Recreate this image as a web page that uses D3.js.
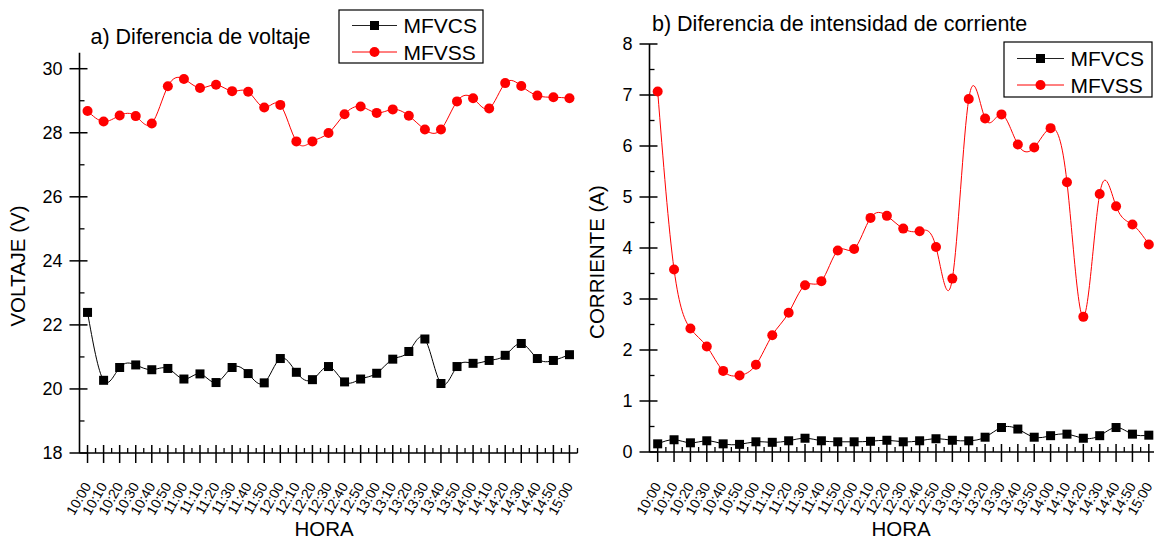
<!DOCTYPE html>
<html>
<head>
<meta charset="utf-8">
<script src="https://cdn.jsdelivr.net/npm/d3@7/dist/d3.min.js"></script>
<style>
  html, body { margin: 0; padding: 0; background: #fff; }
  svg { display: block; font-family: "Liberation Sans", Arial, sans-serif; }
</style>
</head>
<body>
<svg id="chart" width="1154" height="539"></svg>
<script>
// Measurement times, every 10 minutes
const horas = ["10:00","10:10","10:20","10:30","10:40","10:50","11:00","11:10","11:20","11:30",
  "11:40","11:50","12:00","12:10","12:20","12:30","12:40","12:50","13:00","13:10",
  "13:20","13:30","13:40","13:50","14:00","14:10","14:20","14:30","14:40","14:50","15:00"];

// a) Voltage (V)
const voltajeMFVCS = [22.39,20.27,20.67,20.75,20.60,20.64,20.31,20.47,20.20,20.67,
  20.48,20.19,20.95,20.52,20.29,20.70,20.22,20.31,20.49,20.93,
  21.17,21.56,20.17,20.70,20.80,20.89,21.05,21.42,20.95,20.89,21.07];
const voltajeMFVSS = [28.68,28.35,28.54,28.52,28.29,29.45,29.68,29.40,29.50,29.30,
  29.28,28.79,28.87,27.73,27.73,27.99,28.58,28.82,28.62,28.73,
  28.53,28.10,28.10,28.98,29.08,28.76,29.55,29.46,29.16,29.11,29.08];

// b) Current (A)
const corrienteMFVCS = [0.16,0.24,0.18,0.22,0.16,0.15,0.20,0.19,0.22,0.27,
  0.22,0.20,0.20,0.21,0.23,0.20,0.22,0.26,0.23,0.22,
  0.29,0.48,0.45,0.29,0.32,0.35,0.27,0.32,0.48,0.35,0.33];
const corrienteMFVSS = [7.07,3.58,2.42,2.07,1.59,1.50,1.71,2.29,2.73,3.27,
  3.35,3.95,3.98,4.59,4.63,4.38,4.33,4.02,3.40,6.92,
  6.54,6.62,6.03,5.97,6.35,5.29,2.65,5.06,4.82,4.46,4.07];

const voltajeTicks = [18,20,22,24,26,28,30];
const corrienteTicks = [0,1,2,3,4,5,6,7,8];
const seriesNames = ["MFVCS","MFVSS"];

const svg = d3.select("#chart");
const idx = d3.range(horas.length);

function panel(cfg) {
  const g = svg.append("g");
  const x = d3.scaleLinear().domain([-0.5, horas.length - 0.5]).range(cfg.xRange);
  const y = d3.scaleLinear().domain(cfg.yDomain).range(cfg.yRange);
  const x0 = cfg.xRange[0], y0 = cfg.yRange[0];

  // axis lines
  g.append("line").attr("x1", x0).attr("x2", x0).attr("y1", cfg.yRange[0]).attr("y2", cfg.yRange[1])
    .attr("stroke", "#000").attr("stroke-width", 1.6);
  g.append("line").attr("x1", x0).attr("x2", cfg.xRange[1]).attr("y1", y0).attr("y2", y0)
    .attr("stroke", "#000").attr("stroke-width", 1.6);

  // y major ticks (in & out) and labels
  g.selectAll(".ymaj").data(cfg.yTicks).join("line")
    .attr("x1", x0 - 10).attr("x2", x0 + 8)
    .attr("y1", d => y(d)).attr("y2", d => y(d))
    .attr("stroke", "#000").attr("stroke-width", 1.5);
  g.selectAll(".ylab").data(cfg.yTicks).join("text")
    .attr("x", x0 - 17).attr("y", d => y(d)).attr("dy", "0.36em")
    .attr("text-anchor", "end").attr("font-size", 18).attr("fill", "#000")
    .text(d => d);
  // y minor ticks (in)
  g.selectAll(".ymin").data(cfg.yMinor).join("line")
    .attr("x1", x0).attr("x2", x0 + 5)
    .attr("y1", d => y(d)).attr("y2", d => y(d))
    .attr("stroke", "#000").attr("stroke-width", 1.3);

  // x major ticks (in & out)
  g.selectAll(".xmaj").data(idx).join("line")
    .attr("x1", d => x(d)).attr("x2", d => x(d))
    .attr("y1", y0 - 8).attr("y2", y0 + 10)
    .attr("stroke", "#000").attr("stroke-width", 1.5);
  // x minor ticks (in)
  g.selectAll(".xmin").data(d3.range(horas.length).map(i => i + 0.5)).join("line")
    .attr("x1", d => x(d)).attr("x2", d => x(d))
    .attr("y1", y0 - 5).attr("y2", y0)
    .attr("stroke", "#000").attr("stroke-width", 1.3);
  // rotated hour labels
  g.selectAll(".xlab").data(idx).join("text")
    .attr("transform", d => `translate(${x(d) + 4},${cfg.labelY}) rotate(-60)`)
    .attr("text-anchor", "end").attr("font-size", 14).attr("fill", "#000")
    .text(d => horas[d]);

  // axis titles
  g.append("text").attr("x", cfg.horaX).attr("y", 536).attr("text-anchor", "middle")
    .attr("font-size", 20.5).text("HORA");
  g.append("text")
    .attr("transform", `translate(${cfg.yTitleX},${cfg.yTitleY}) rotate(-90)`)
    .attr("text-anchor", "middle").attr("font-size", 20.5).text(cfg.yTitle);

  // panel title
  g.append("text").attr("x", cfg.titleX).attr("y", cfg.titleY)
    .attr("font-size", 21.5).text(cfg.title);

  // series
  const line = d3.line().x((d, i) => x(i)).y(d => y(d)).curve(d3.curveNatural);
  g.append("path").datum(cfg.black).attr("d", line)
    .attr("fill", "none").attr("stroke", "#000").attr("stroke-width", 1);
  g.append("path").datum(cfg.red).attr("d", line)
    .attr("fill", "none").attr("stroke", "#ff0000").attr("stroke-width", 1);
  g.selectAll(".sq").data(cfg.black).join("rect")
    .attr("x", (d, i) => x(i) - 4.5).attr("y", d => y(d) - 4.5)
    .attr("width", 9).attr("height", 9).attr("fill", "#000");
  g.selectAll(".ci").data(cfg.red).join("circle")
    .attr("cx", (d, i) => x(i)).attr("cy", d => y(d)).attr("r", 5)
    .attr("fill", "#ff0000");

  // legend
  const L = cfg.legend;
  const lg = g.append("g").attr("transform", `translate(${L.x},${L.y})`);
  lg.append("rect").attr("x", 0).attr("y", 0).attr("width", L.w).attr("height", L.h)
    .attr("fill", "#fff").attr("stroke", "#000").attr("stroke-width", 1.2);
  seriesNames.forEach((name, k) => {
    const ry = L.row0 + k * L.rowGap;
    lg.append("line").attr("x1", L.lx1).attr("x2", L.lx2).attr("y1", ry).attr("y2", ry)
      .attr("stroke", k === 0 ? "#222" : "#ff0000").attr("stroke-width", 1);
    const mx = (L.lx1 + L.lx2) / 2;
    if (k === 0) {
      lg.append("rect").attr("x", mx - 4.5).attr("y", ry - 4.5).attr("width", 9).attr("height", 9).attr("fill", "#000");
    } else {
      lg.append("circle").attr("cx", mx).attr("cy", ry).attr("r", 5).attr("fill", "#ff0000");
    }
    lg.append("text").attr("x", L.tx).attr("y", ry).attr("dy", "0.36em")
      .attr("font-size", 21).text(name);
  });
}

panel({
  xRange: [79.5, 577.5], yDomain: [18, 30.5], yRange: [453, 52.7],
  yTicks: voltajeTicks, yMinor: [19,21,23,25,27,29],
  black: voltajeMFVCS, red: voltajeMFVSS, labelY: 486,
  horaX: 324, yTitle: "VOLTAJE (V)", yTitleX: 24.5, yTitleY: 266,
  title: "a) Diferencia de voltaje", titleX: 90.5, titleY: 44,
  legend: { x: 339, y: 10, w: 144, h: 53, row0: 15.5, rowGap: 26.5, lx1: 13, lx2: 58, tx: 64.5 }
});

panel({
  xRange: [649.5, 1157], yDomain: [0, 8], yRange: [452, 44],
  yTicks: corrienteTicks, yMinor: d3.range(0.5, 8, 1),
  black: corrienteMFVCS, red: corrienteMFVSS, labelY: 486,
  horaX: 901, yTitle: "CORRIENTE (A)", yTitleX: 604, yTitleY: 262,
  title: "b) Diferencia de intensidad de corriente", titleX: 652, titleY: 31,
  legend: { x: 1004, y: 42, w: 148, h: 55, row0: 16.5, rowGap: 26.5, lx1: 13, lx2: 60, tx: 66.5 }
});
</script>
</body>
</html>
